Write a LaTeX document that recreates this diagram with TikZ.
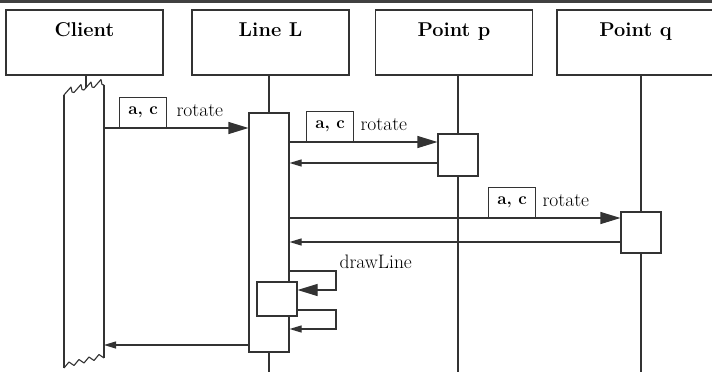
\documentclass[tikz,border=0pt]{standalone}
\usepackage{tikz}
\usetikzlibrary{arrows.meta,positioning,calc}

\begin{document}
\begin{tikzpicture}[x=1pt,y=-1pt,line width=1.1pt,draw=black!80,
    head/.style={draw,minimum width=157pt,minimum height=65pt,inner sep=0pt},
    headtext/.style={font=\fontsize{20}{22}\selectfont\bfseries},
    act/.style={draw,fill=white,minimum width=40pt,inner sep=0pt},
    argbox/.style={draw,minimum width=47pt,minimum height=30pt,inner sep=0pt,
        anchor=south west,font=\fontsize{17}{19}\selectfont\bfseries},
    msg/.style={anchor=base west,inner sep=0pt,font=\fontsize{19.5}{21}\selectfont},
    call/.style={-{Triangle[length=20pt,width=12pt]}},
    ret/.style={-{Triangle[length=12pt,width=7pt]}}]
        % page frame 712 x 372, y runs downwards
        \useasboundingbox (0,0) rectangle (712,372);
        \fill[black!75] (0,0) rectangle (712,2.5);

        % object heads
        \node[head,label={[headtext,anchor=north,yshift=-9pt]north:Client}] (client) at (84.5,42.5) {};
        \node[head,label={[headtext,anchor=north,yshift=-9pt]north:Line L}] (lineL) at (270.5,42.5) {};
        \node[head,label={[headtext,anchor=north,yshift=-9pt]north:Point p}] (pointP) at (454,42.5) {};
        \node[head,label={[headtext,anchor=north,yshift=-9pt]north:Point q}] (pointQ) at (635.5,42.5) {};

        % client activation, cut off at both ends
        \coordinate (cNW) at (64,95);
        \coordinate (cNE) at (104,85);
        \coordinate (cSW) at (64,368);
        \coordinate (cSE) at (104,358);
        \draw (client.south -| 86,0) -- (86,88);
        \draw (cNE) -- (cSE);
        \draw (cNW) -- (cSW);
        \draw[line join=bevel] (cNW) \foreach \i in {0,1,2,3} {
            -- ++(7,-8) -- ++(1,5) -- ++(2,0.5)} ;
        \draw[line join=bevel] (cSW) \foreach \i in {0,1,2,3} {
            -- ++(5,-6) -- ++(5,3.5)} ;

        % activations
        \node[act,minimum height=239pt] (actL) at (269,232.5) {};
        \node[act,minimum height=42pt] (actP) at (458,155) {};
        \node[act,minimum height=41pt] (actQ) at (641,232.5) {};

        % lifelines
        \draw (lineL.south -| actL.north) -- (actL.north);
        \draw (actL.south) -- (269,372);
        \draw (pointP.south -| actP.north) -- (actP.north);
        \draw (actP.south) -- (458,372);
        \draw (pointQ.south -| actQ.north) -- (actQ.north);
        \draw (actQ.south) -- (641,372);

        % rotate to L
        \coordinate (m1) at (104,128);
        \draw[call] (m1) -- (m1 -| actL.west);
        \node[argbox] (arg1) at (119,128) {a, c};
        \node[msg] at (176,116) {rotate};

        % rotate to p
        \coordinate (m2) at (actL.east |- 0,142);
        \draw[call] (m2) -- (m2 -| actP.west);
        \node[argbox] (arg2) at (306,142) {a, c};
        \node[msg] at (360,130) {rotate};
        \draw[ret] (actP.west |- 0,163) -- (actL.east |- 0,163);

        % rotate to q
        \coordinate (m3) at (actL.east |- 0,218);
        \draw[call] (m3) -- (m3 -| actQ.west);
        \node[argbox] (arg3) at (488,218) {a, c};
        \node[msg] at (542,206) {rotate};
        \draw[ret] (actQ.west |- 0,242) -- (actL.east |- 0,242);

        % self call
        \node[act,minimum height=34pt] (actN) at (277,299) {};
        \draw[call] (actL.east |- 0,271) -| (336,290) -- (actN.east |- 0,290);
        \node[msg] at (339,268) {drawLine};
        \draw[ret] (actN.east |- 0,310) -| (336,329) -- (actL.east |- 0,329);

        % back to client
        \draw[ret] (actL.west |- 0,345) -- (cNE |- 0,345);
    \end{tikzpicture}
\end{document}
